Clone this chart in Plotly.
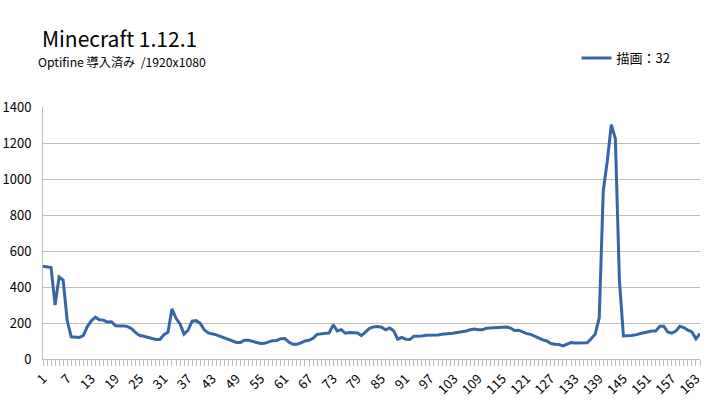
import plotly.graph_objects as go

categories = list(range(1, 165))
draw_values = [
    515, 510, 508, 300, 455, 438, 215, 123, 122, 120,
    130, 180, 212, 232, 218, 216, 205, 207, 185, 186,
    184, 180, 168, 146, 130, 126, 120, 112, 108, 108,
    135, 148, 278, 226, 195, 138, 160, 210, 213, 198,
    162, 145, 141, 134, 126, 118, 110, 103, 92, 92,
    104, 104, 96, 92, 86, 87, 95, 102, 103, 113,
    114, 94, 82, 82, 90, 100, 104, 115, 137, 139,
    143, 145, 190, 156, 163, 143, 147, 147, 145, 130,
    150, 170, 178, 180, 177, 162, 172, 157, 110, 120,
    110, 108, 126, 126, 128, 132, 132, 130, 134, 138,
    138, 141, 145, 148, 154, 156, 162, 166, 162, 162,
    171, 172, 176, 178, 178, 178, 172, 158, 160, 150,
    141, 137, 126, 115, 106, 100, 86, 82, 80, 73,
    82, 91, 89, 89, 89, 90, 112, 138, 228, 935,
    1100, 1302, 1225, 440, 128, 128, 130, 134, 141, 146,
    150, 155, 155, 182, 182, 150, 144, 155, 182, 175,
    160, 150, 112, 141,
]
x_tick_values = categories[::6]
x_tick_labels = [str(v) for v in x_tick_values]
y_tick_values = [0, 200, 400, 600, 800, 1000, 1200, 1400]

title_text = "Minecraft 1.12.1"
subtitle_text = "Optifine 導入済み \u00a0/1920x1080"
series_name = "描画：32"

FONT = "Noto Sans CJK JP"
LINE_COLOR = "#3466A8"
GRID = "#BDBDBD"

fig = go.Figure()
fig.add_trace(go.Scatter(
    x=categories, y=draw_values, mode="lines", name=series_name,
    line=dict(color=LINE_COLOR, width=3),
))

fig.update_layout(
    width=725, height=405,
    margin=dict(l=43, r=25, t=107, b=46, autoexpand=False),
    paper_bgcolor="white", plot_bgcolor="white",
    font=dict(family=FONT, color="#000000", size=12),
    showlegend=True,
    legend=dict(
        x=0.812, y=1.194, xanchor="left", yanchor="middle",
        orientation="h", font=dict(size=13, family=FONT, color="#000000"),
        bgcolor="rgba(0,0,0,0)",
    ),
    annotations=[
        dict(text=title_text, xref="paper", yref="paper", x=-0.005, y=1.0,
             xanchor="left", yanchor="bottom", yshift=52, showarrow=False,
             font=dict(size=21, family=FONT, color="#000000")),
        dict(text=subtitle_text, xref="paper", yref="paper", x=-0.011, y=1.0,
             xanchor="left", yanchor="bottom", yshift=34, showarrow=False,
             font=dict(size=12.2, family=FONT, color="#000000")),
    ],
)

fig.update_xaxes(
    range=[1, 164], tickmode="array", tickvals=x_tick_values, ticktext=x_tick_labels,
    tickangle=-45, showgrid=False, zeroline=False, automargin=False,
    showline=True, linecolor=GRID, linewidth=1,
    ticks="outside", ticklen=6, tickcolor=GRID,
    minor=dict(ticks="outside", ticklen=6, dtick=1, tick0=1, tickcolor=GRID, showgrid=False),
    tickfont=dict(size=13, family=FONT, color="#000000"),
)
fig.update_yaxes(
    range=[0, 1400], tickmode="array", tickvals=y_tick_values,
    showgrid=True, gridcolor=GRID, gridwidth=1, zeroline=False, automargin=False,
    showline=True, linecolor=GRID, linewidth=1,
    ticks="", ticklabelstandoff=8,
    tickfont=dict(size=13, family=FONT, color="#000000"),
)

# remove the default 8px page margin so the figure fills the window exactly
fig.write_html("out.html", config={"displayModeBar": False},
               post_script="document.body.style.margin='0';")
